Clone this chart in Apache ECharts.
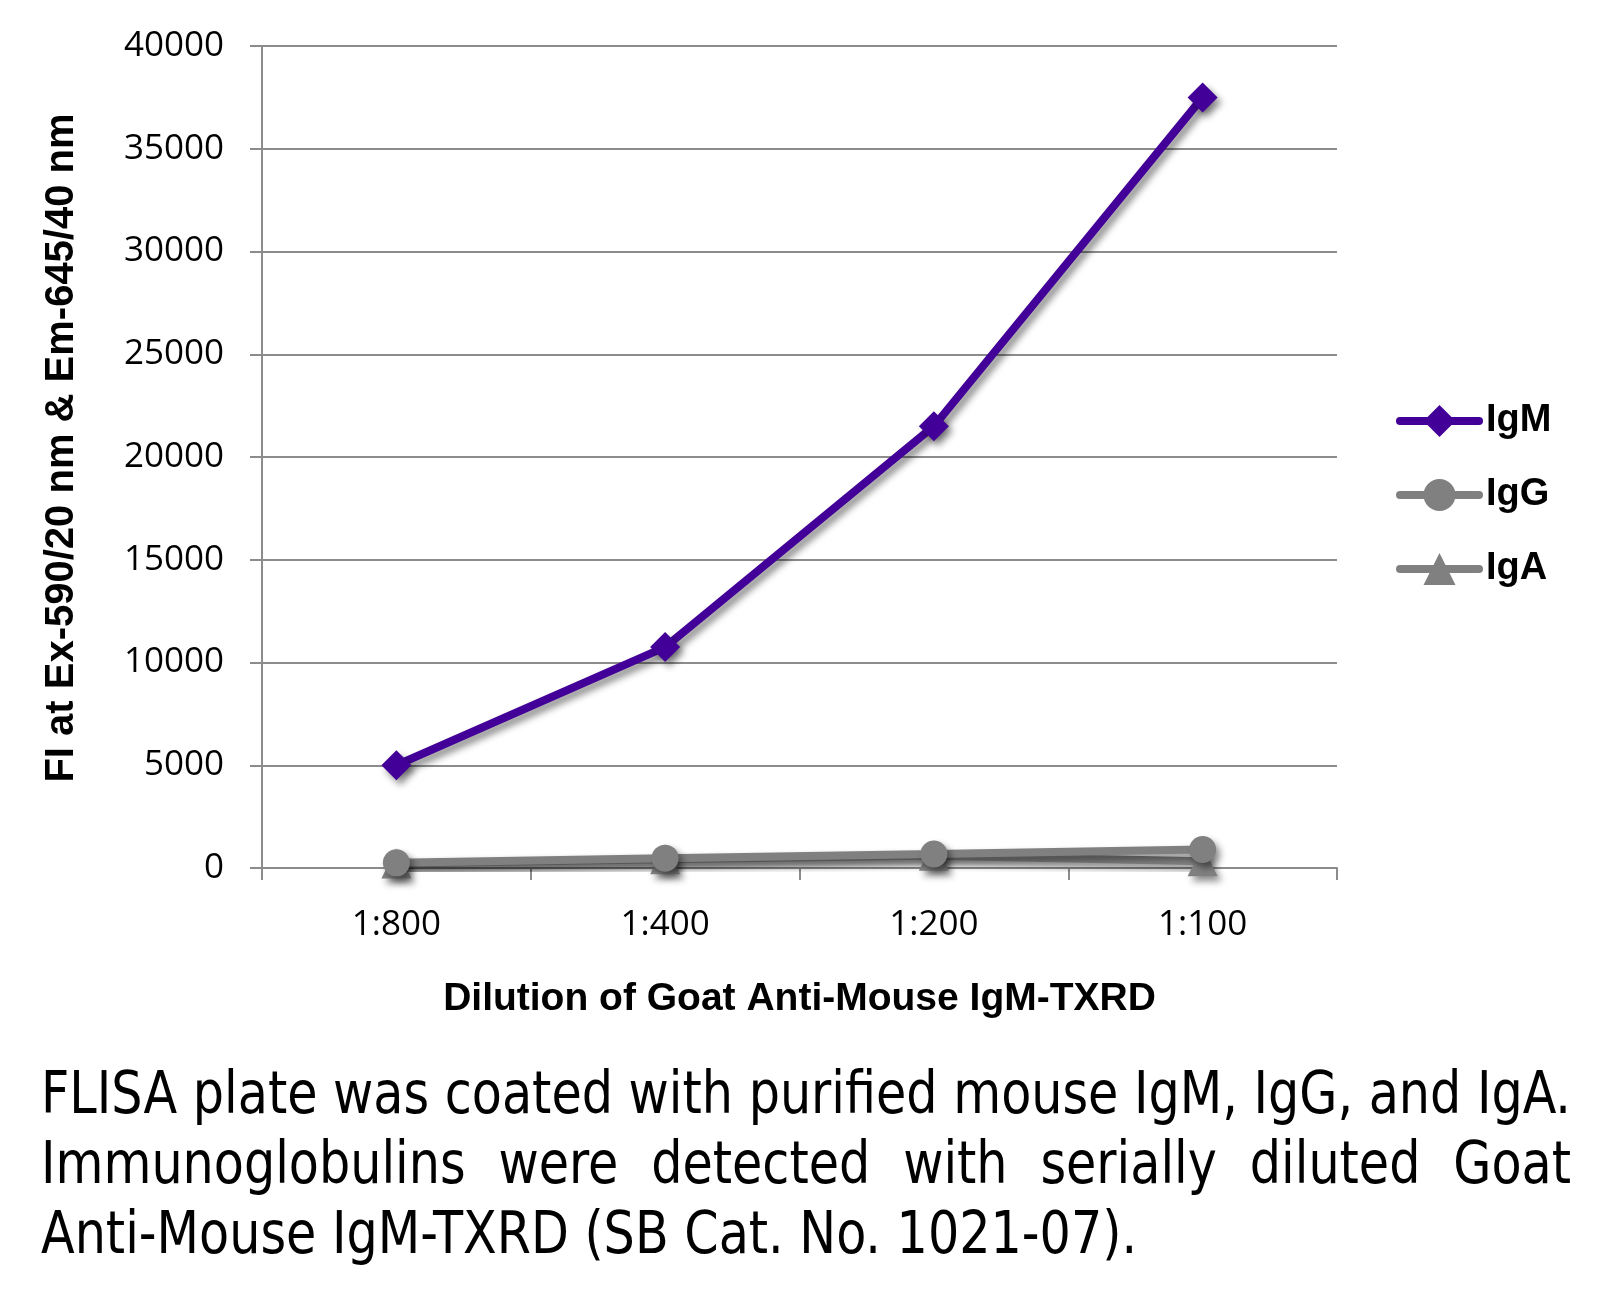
<!DOCTYPE html>
<html>
<head>
<meta charset="utf-8">
<script src="https://cdn.jsdelivr.net/npm/echarts@6/dist/echarts.min.js"></script>
<style>
  html, body { margin: 0; padding: 0; background: #fff; }
  #chart { position: absolute; left: 0; top: 0; width: 1605px; height: 1306px; }
  #caption {
    position: absolute; left: 41px; top: 1058px;
    font-family: "Liberation Sans Narrow", "DejaVu Sans Condensed", "Liberation Sans", sans-serif;
    font-size: 58px; line-height: 70px; color: #000;
    transform-origin: 0 0; white-space: nowrap;
  }
  #caption .j { text-align: justify; text-align-last: justify; white-space: normal; }
  #caption .l { text-align: left; }
</style>
</head>
<body>
<div id="chart"></div>
<div id="caption">
  <div class="j" id="cap1">FLISA plate was coated with purified mouse IgM, IgG, and IgA.</div>
  <div class="j">Immunoglobulins were detected with serially diluted Goat</div>
  <div class="l">Anti-Mouse IgM-TXRD (SB Cat. No. 1021-07).</div>
</div>
<script>
// ---- data ----
var categories = ['1:800', '1:400', '1:200', '1:100'];
var igM = [5000, 10750, 21500, 37500];
var igG = [250, 480, 680, 900];
var igA = [220, 420, 600, 330];
var seriesNames = ['IgM', 'IgG', 'IgA'];
var yTicks = { min: 0, max: 40000, interval: 5000 };
var yTitle = 'FI at Ex-590/20 nm & Em-645/40 nm';
var xTitle = 'Dilution of Goat Anti-Mouse IgM-TXRD';

// ---- caption fit ----
(function () {
  var cap = document.getElementById('caption');
  var probe = document.createElement('span');
  probe.style.font = getComputedStyle(cap).font;
  probe.style.whiteSpace = 'nowrap';
  probe.style.position = 'absolute';
  probe.style.visibility = 'hidden';
  probe.textContent = document.getElementById('cap1').textContent;
  document.body.appendChild(probe);
  var w = probe.getBoundingClientRect().width;
  document.body.removeChild(probe);
  var target = 1530;
  var s = target / w;
  cap.style.width = (target / s) + 'px';
  cap.style.transform = 'scaleX(' + s + ')';
})();

var gray = '#8c8c8c';
var shadow = { shadowBlur: 7, shadowColor: 'rgba(0,0,0,0.45)', shadowOffsetX: 4, shadowOffsetY: 5 };
function mkSeries(name, data, color, symbol, size, z) {
  return {
    name: name, type: 'line', data: data, z: z,
    symbol: symbol, symbolSize: size,
    lineStyle: Object.assign({ color: color, width: 8 }, shadow),
    itemStyle: Object.assign({ color: color }, shadow),
    emphasis: { disabled: true },
    animation: false
  };
}

var chart = echarts.init(document.getElementById('chart'), null, { renderer: 'canvas' });
chart.setOption({
  backgroundColor: '#fff',
  animation: false,
  grid: { left: 262, right: 268, top: 46, bottom: 438 },
  legend: {
    orient: 'vertical', left: 1391, top: 397,
    itemWidth: 79, itemHeight: 40, itemGap: 36,
    data: seriesNames,
    lineStyle: { width: 8, cap: 'round', shadowBlur: 0, shadowOffsetX: 0, shadowOffsetY: 0 },
    itemStyle: { shadowBlur: 0, shadowOffsetX: 0, shadowOffsetY: 0 },
    textStyle: { fontSize: 38, fontWeight: 'bold', fontFamily: 'Liberation Sans', color: '#000', padding: [0, 0, 0, 2] },
    selectedMode: false
  },
  xAxis: {
    type: 'category', data: categories, boundaryGap: true,
    axisLine: { lineStyle: { color: gray, width: 2 } },
    axisTick: { show: true, length: 12, lineStyle: { color: gray, width: 2 } },
    axisLabel: { fontSize: 35, fontFamily: 'Open Sans', color: '#000', margin: 40 },
    name: xTitle, nameLocation: 'middle', nameGap: 112,
    nameTextStyle: { fontSize: 39, fontWeight: 'bold', fontFamily: 'Liberation Sans', color: '#000' }
  },
  yAxis: {
    type: 'value', min: yTicks.min, max: yTicks.max, interval: yTicks.interval,
    axisLine: { show: true, lineStyle: { color: gray, width: 2 } },
    axisTick: { show: true, length: 12, lineStyle: { color: gray, width: 2 } },
    splitLine: { lineStyle: { color: gray, width: 2 } },
    axisLabel: { fontSize: 35, fontFamily: 'Open Sans', color: '#000', margin: 38,
      formatter: function (v) { return String(v); } },
    name: yTitle, nameLocation: 'middle', nameGap: 180, nameRotate: 90,
    nameTextStyle: { fontSize: 40, fontWeight: 'bold', fontFamily: 'Liberation Sans', color: '#000', padding: [0, 0, 0, 18] }
  },
  series: [
    mkSeries('IgM', igM, '#430099', 'diamond', 30, 4),
    mkSeries('IgG', igG, '#808080', 'circle', 27, 3),
    mkSeries('IgA', igA, '#808080', 'triangle', 30, 2)
  ]
});
</script>
</body>
</html>
